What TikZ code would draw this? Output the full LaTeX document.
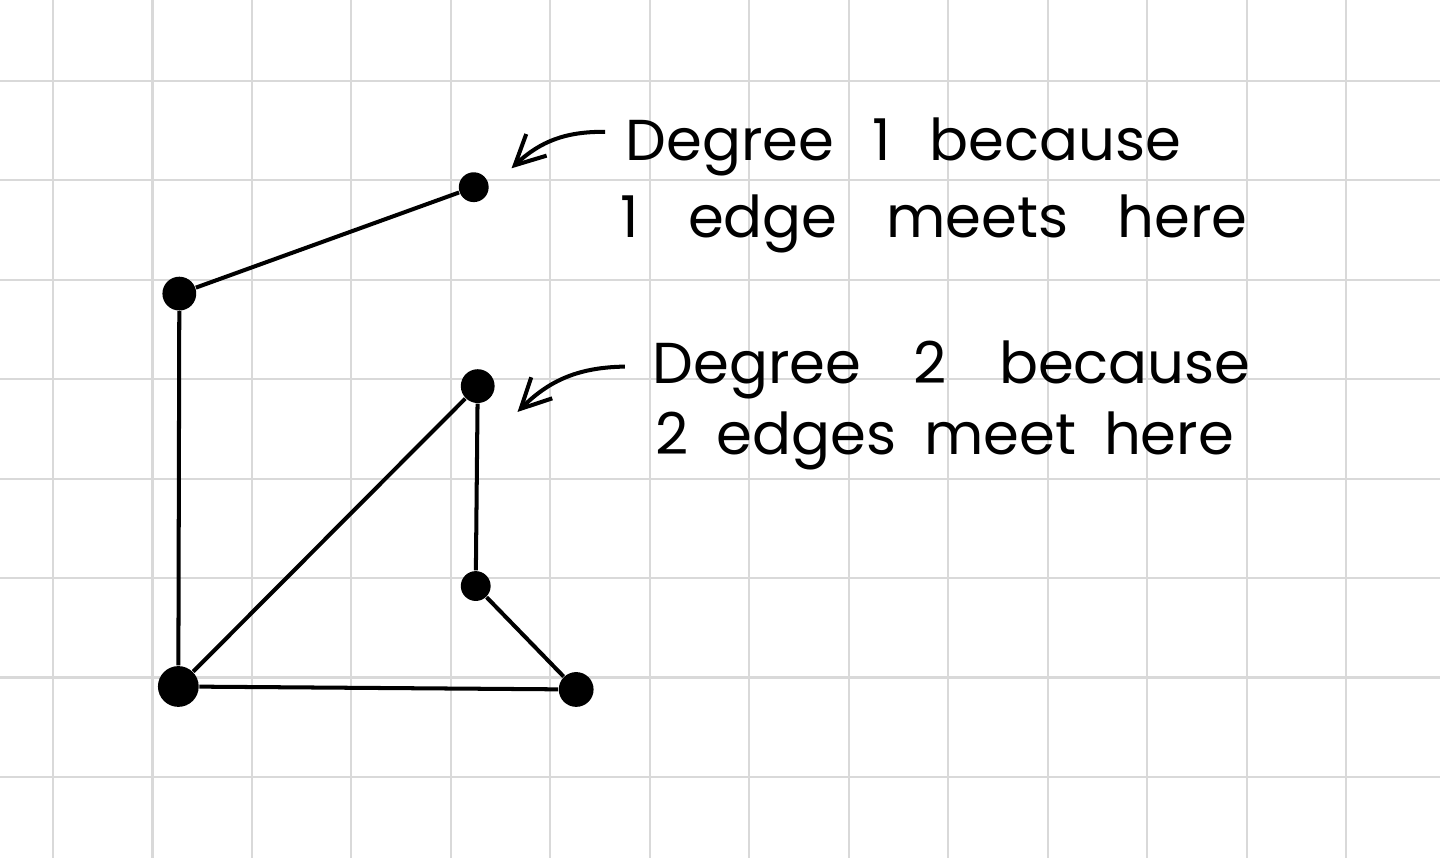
\documentclass[tikz,border=0pt]{standalone}
\usepackage{fontspec}
\setmainfont{Poppins}
\usetikzlibrary{arrows.meta}
\newcommand\notefont[1]{\fontsize{16.5}{18}\selectfont\spaceskip #1\relax}
\begin{document}
\begin{tikzpicture}[>={Straight Barb[length=8.5pt,width=8.5pt]},x=1.0cm,y=1.0cm,
	vertex/.style={circle,fill=black,inner sep=0pt,minimum size=3mm},
	seg/.style={line width=1.15pt},
	note/.style={anchor=base west,inner sep=0pt,font=\notefont{#1}}]
		\useasboundingbox (-0.533,-0.814) rectangle (13.945,7.812);
		\draw [color=gray!30,line width=0.6pt,step=1.0] (-0.533,-0.814) grid (13.945,7.812);
		\node[vertex] (a) at (4.23,5.93) {};
		\node[vertex,minimum size=3.4mm] (b) at (1.27,4.86) {};
		\node[vertex,minimum size=4.1mm] (c) at (1.26,0.91) {};
		\node[vertex,minimum size=3.4mm] (d) at (4.27,3.93) {};
		\node[vertex] (e) at (4.25,1.92) {};
		\node[vertex,minimum size=3.5mm] (f) at (5.26,0.88) {};
		\draw[seg] (a) -- (b) -- (c) -- (f) -- (e) -- (d) -- (c);
		\node[note=11pt] (t1) at (5.75,6.20) {Degree 1 because};
		\node[note=14pt] (t2) at (5.70,5.42) {1 edge meets here};
		\node[note=15pt] (t3) at (6.02,3.96) {Degree 2 because};
		\node[note=8pt] (t4) at (6.05,3.24) {2 edges meet here};
		\draw[seg,->] ([xshift=-2mm,yshift=1.5mm]t1.west) to[bend right=22] ([xshift=3.8mm,yshift=1.9mm]a.center);
		\draw[seg,->] ([xshift=-2.7mm,yshift=0.3mm]t3.west) to[bend right=22] ([xshift=4mm,yshift=-2.6mm]d.center);
\end{tikzpicture}
\end{document}
